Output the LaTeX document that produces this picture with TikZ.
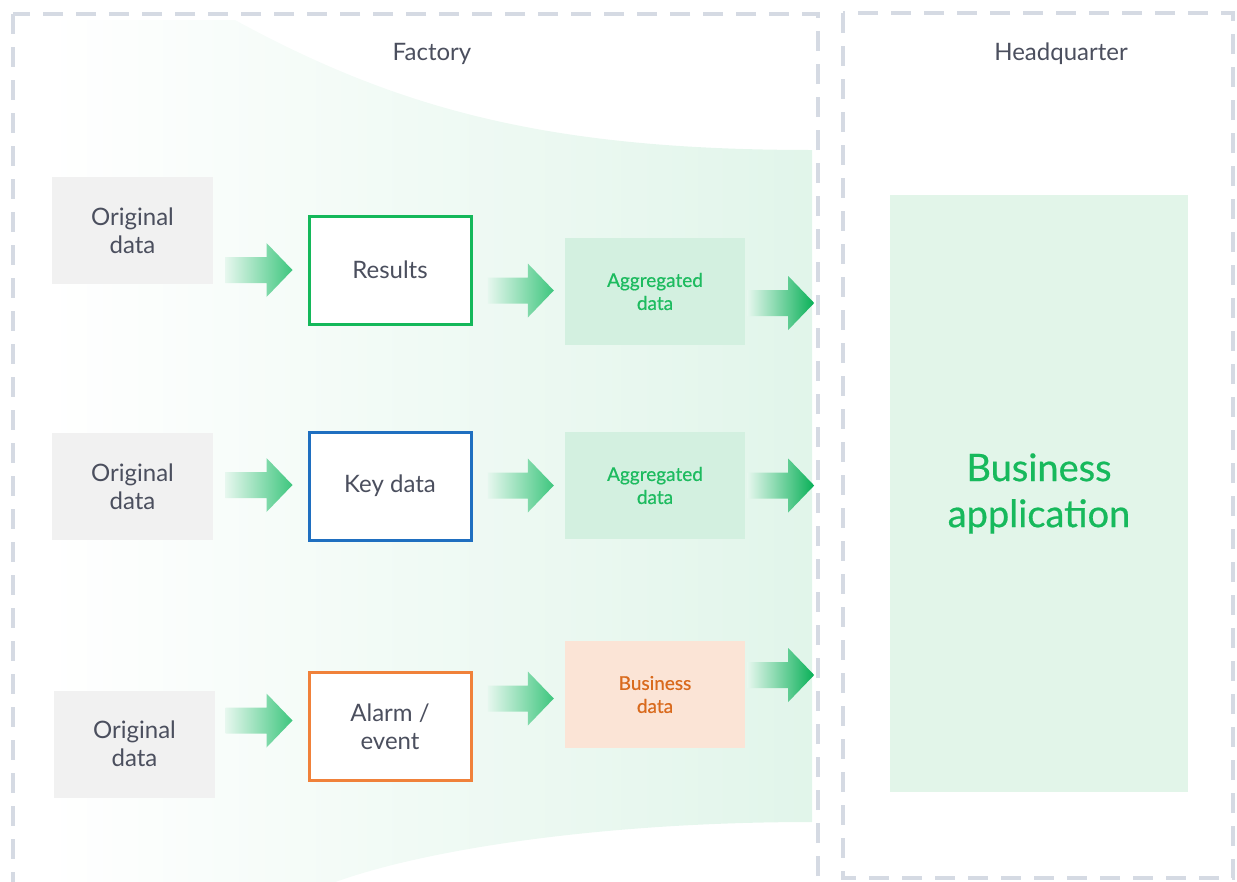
\documentclass[tikz,border=0pt]{standalone}
\usepackage{fontspec}
\setmainfont{Lato}
\newfontfamily\medlato[FakeBold=0.6]{Lato}
\usetikzlibrary{calc}

\definecolor{frameGray}{HTML}{D5DAE3}
\definecolor{inkGray}{HTML}{4B4F5E}
\definecolor{origFill}{HTML}{F1F1F1}
\definecolor{resGreen}{HTML}{14B85A}
\definecolor{keyBlue}{HTML}{1F6FC0}
\definecolor{alarmOrange}{HTML}{F0813A}
\definecolor{aggFill}{HTML}{D3F0E0}
\definecolor{aggText}{HTML}{1DBB5F}
\definecolor{bizFill}{HTML}{FBE4D6}
\definecolor{bizText}{HTML}{D96A1D}
\definecolor{appFill}{HTML}{E2F5E9}
\definecolor{appText}{HTML}{17B95C}
\definecolor{bandRight}{HTML}{E1F5EA}
\definecolor{arrowPale}{HTML}{E6F7EE}
\definecolor{arrowMid}{HTML}{3EC67E}
\definecolor{arrowDeep}{HTML}{08B057}

% block arrow: #1 tail point, #2 tip point, #3 tail colour, #4 tip colour
\newcommand\flowarrow[4]{%
  \path #1 coordinate (fa-t) #2 coordinate (fa-h);
  \shade[left color=#3,right color=#4]
    ($(fa-t)+(0,-13)$) -- ($(fa-h)+(-26,-13)$) -- ($(fa-h)+(-26,-27)$) -- (fa-h)
    -- ($(fa-h)+(-26,27)$) -- ($(fa-h)+(-26,13)$) -- ($(fa-t)+(0,13)$) -- cycle;}

\tikzset{
  frame/.style={draw=frameGray,line width=4pt,dash pattern=on 20pt off 13pt},
  title/.style={text=inkGray,font=\fontsize{24}{28}\selectfont},
  origbox/.style={fill=origFill,minimum width=161pt,minimum height=107pt,inner sep=0pt,
    align=center,text=inkGray,font=\fontsize{24}{28}\selectfont},
  stagebox/.style={fill=white,line width=3pt,minimum width=162pt,minimum height=108pt,inner sep=0pt,
    align=center,text=inkGray,font=\fontsize{24}{28}\selectfont},
  outbox/.style={minimum width=180pt,minimum height=107pt,inner sep=0pt,align=center,
    font=\medlato\fontsize{19}{23}\selectfont},
}

\begin{document}
\begin{tikzpicture}[x=1pt,y=-1pt]
\useasboundingbox (0,0) rectangle (1237,881);
\clip (0,0) rectangle (1237,881);

% green band narrowing towards the headquarter
\shade[left color=white,right color=bandRight]
  (48,20) -- (235,20) .. controls (400,110) and (550,150) .. (812,150)
  -- (812,822) .. controls (600,822) and (420,850) .. (330,884)
  -- (48,884) -- cycle;

% dashed site frames
\draw[frame] (13,14) rectangle (818,884);
\draw[frame] (843,13) rectangle (1233,878);
\node[title] (factory) at (432,54) {Factory};
\node[title] (hq) at (1061,54) {Headquarter};

% row 1
\node[origbox] (o1) at (132.5,230.5) {Original\\data};
\node[stagebox,draw=resGreen] (s1) at (390,270) {Results};
\node[outbox,fill=aggFill,text=aggText] (g1) at (655,291.5) {Aggregated\\data};

% row 2
\node[origbox] (o2) at (132.5,486.5) {Original\\data};
\node[stagebox,draw=keyBlue] (s2) at (390,486) {Key data};
\node[outbox,fill=aggFill,text=aggText] (g2) at (655,485.5) {Aggregated\\data};

% row 3
\node[origbox] (o3) at (134.5,744) {Original\\data};
\node[stagebox,draw=alarmOrange] (s3) at (390,726.5) {Alarm /\\event};
\node[outbox,fill=bizFill,text=bizText] (g3) at (655,694.5) {Business\\data};

% headquarter application
\node[fill=appFill,minimum width=298pt,minimum height=597pt,inner sep=0pt,align=center,
  text=appText,font=\medlato\fontsize{38}{46}\selectfont] (app) at (1039,493.5) {\raisebox{-3pt}{\parbox{298pt}{\centering Business\\application}}};

% flow arrows
\flowarrow{($(s1.west)+(-82,0)$)}{($(s1.west)+(-15,0)$)}{arrowPale}{arrowMid}
\flowarrow{($(s2.west)+(-82,-1)$)}{($(s2.west)+(-15,-1)$)}{arrowPale}{arrowMid}
\flowarrow{($(s3.west)+(-82,-6)$)}{($(s3.west)+(-15,-6)$)}{arrowPale}{arrowMid}

\flowarrow{($(g1.west)+(-77,-1)$)}{($(g1.west)+(-11,-1)$)}{arrowPale}{arrowMid}
\flowarrow{($(g2.west)+(-77,0)$)}{($(g2.west)+(-11,0)$)}{arrowPale}{arrowMid}
\flowarrow{($(g3.west)+(-77,4)$)}{($(g3.west)+(-11,4)$)}{arrowPale}{arrowMid}

\flowarrow{($(g1.east)+(2,11.5)$)}{($(g1.east)+(69,11.5)$)}{arrowPale}{arrowDeep}
\flowarrow{($(g2.east)+(2,0)$)}{($(g2.east)+(69,0)$)}{arrowPale}{arrowDeep}
\flowarrow{($(g3.east)+(2,-19.5)$)}{($(g3.east)+(69,-19.5)$)}{arrowPale}{arrowDeep}
\end{tikzpicture}
\end{document}
